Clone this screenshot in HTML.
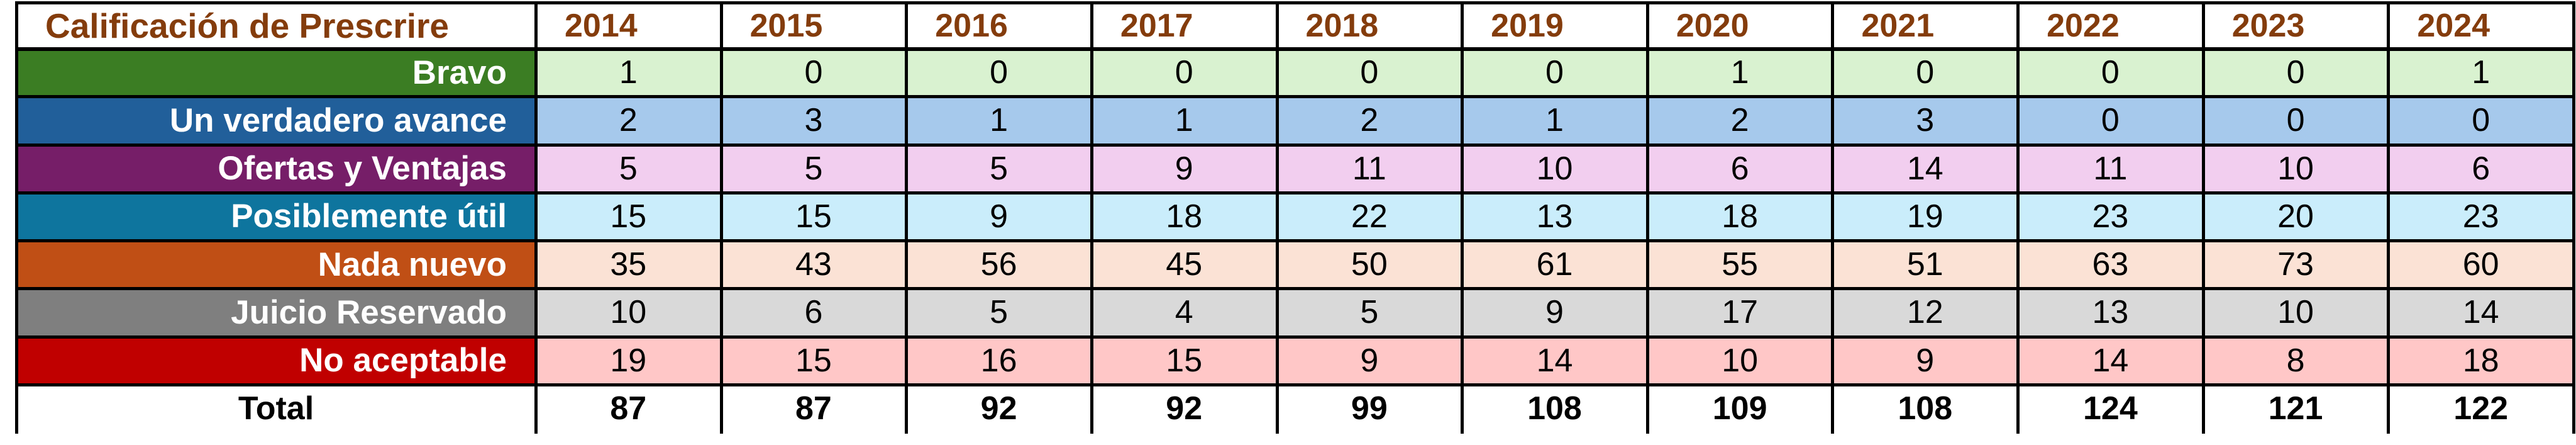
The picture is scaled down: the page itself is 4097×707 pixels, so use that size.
<!DOCTYPE html>
<html><head><meta charset="utf-8"><style>
body{margin:0;width:4097px;height:707px;background:#fff;overflow:hidden;position:relative;font-family:"Liberation Sans",Arial,sans-serif}
.c{position:absolute;box-sizing:border-box;display:flex;align-items:center;white-space:nowrap}
.n{justify-content:center;font-size:52px;color:#000}
.l{justify-content:flex-end;padding-right:46px;color:#fff;font-weight:bold;font-size:53px}
.h{font-weight:bold;color:#843C0C;font-size:52px;padding-left:46px}
.t{font-weight:bold;font-size:52px;justify-content:center}
.vl{position:absolute;background:#000}
</style></head><body>
<div id="root"></div>
<script>
var cols=["2014","2015","2016","2017","2018","2019","2020","2021","2022","2023","2024"];
var rows=[
["Bravo","#3B7D23","#D9F2D0",[1,0,0,0,0,0,1,0,0,0,1]],
["Un verdadero avance","#215F9A","#A6C9EC",[2,3,1,1,2,1,2,3,0,0,0]],
["Ofertas y Ventajas","#761E68","#F2CEEF",[5,5,5,9,11,10,6,14,11,10,6]],
["Posiblemente útil","#0E759E","#CAEDFB",[15,15,9,18,22,13,18,19,23,20,23]],
["Nada nuevo","#C04F15","#FBE2D5",[35,43,56,45,50,61,55,51,63,73,60]],
["Juicio Reservado","#7F7F7F","#D9D9D9",[10,6,5,4,5,9,17,12,13,10,14]],
["No aceptable","#C00000","#FFC7C7",[19,15,16,15,9,14,10,9,14,8,18]]];
var tot=[87,87,92,92,99,108,109,108,124,121,122];
var L=26,R=4093,C0=852,cw=(R-C0)/11,T=4,H0=77,rh=76.25;
var h="";
function cell(x,y,w,hh,cls,bg,txt){h+='<div class="c '+cls+'" style="left:'+x+'px;top:'+y+'px;width:'+w+'px;height:'+hh+'px;background:'+bg+'">'+txt+'</div>';}
cell(L,T,C0-L,H0-T,"h","#fff",'<span style="font-size:55px">Calificación de Prescrire</span>');
cols.forEach(function(c,i){cell(C0+i*cw,T,cw,H0-T,"h","#fff","<span>"+c+"</span>");});
rows.forEach(function(r,j){var y=H0+j*rh;
cell(L,y,C0-L,rh,"l",r[1],"<span>"+r[0]+"</span>");
r[3].forEach(function(v,i){cell(C0+i*cw,y,cw,rh,"n",r[2],v);});});
var y7=H0+7*rh;
cell(L,y7,C0-L,rh,"t","#fff",'Total');
tot.forEach(function(v,i){cell(C0+i*cw,y7,cw,rh,"t","#fff",v);});
for(var j=0;j<=8;j++){var y=(j==0?T:H0+(j-1)*rh);var th=(j==0||j==8)?5:(j==1?6:5);
h+='<div class="vl" style="left:'+L+'px;top:'+(y-2)+'px;width:'+(R-L+2)+'px;height:'+th+'px"></div>';}
for(var i=0;i<=12;i++){var x=(i==0?L:C0+(i-1)*cw);
h+='<div class="vl" style="left:'+(x-2)+'px;top:'+(T-2)+'px;width:5px;height:'+(y7+rh-T+4)+'px"></div>';}
document.getElementById("root").innerHTML=h;
</script>
</body></html>
